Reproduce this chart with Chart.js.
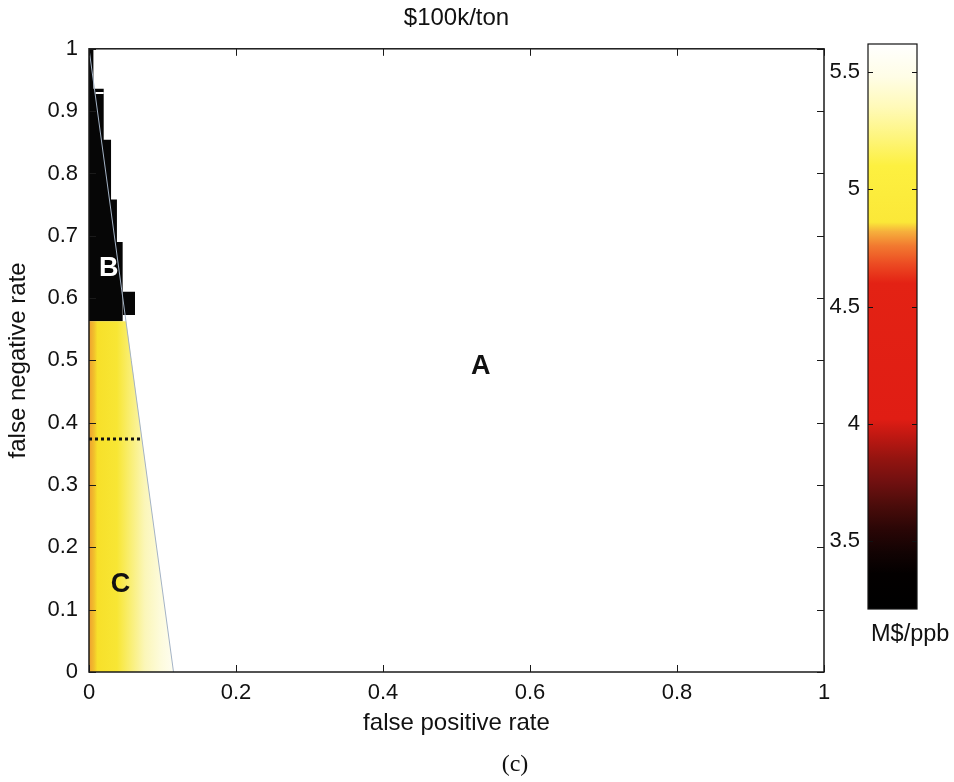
<!DOCTYPE html>
<html>
<head>
<meta charset="utf-8">
<script src="https://cdn.jsdelivr.net/npm/chart.js@4.4.1/dist/chart.umd.min.js"></script>
<style>
  html, body { margin: 0; padding: 0; background: #fff; }
  #wrap { position: relative; width: 954px; height: 782px; overflow: hidden; }
  #main { position: absolute; left: 0; top: 0; }
  #cbar { position: absolute; left: 800px; top: 0; }
  #cap { position: absolute; left: 0; width: 1030px; top: 750px; text-align: center;
         font: 24px "Liberation Serif", "Times New Roman", serif; color: #111; }
</style>
</head>
<body>
<div id="wrap">
  <canvas id="main" width="954" height="782"></canvas>
  <canvas id="cbar" width="154" height="782"></canvas>
  <div id="cap">(c)</div>
</div>
<script>
// region B (black) upper edge, stepped
const blackEdgeX = [0, 0.006, 0.006, 0.020, 0.020, 0.030, 0.030, 0.038, 0.038, 0.046, 0.046];
const blackEdgeY = [1, 1, 0.936, 0.936, 0.854, 0.854, 0.758, 0.758, 0.69, 0.69, 0.61];
const blackBottom = 0.563;
// last step of region B sits a bit higher
const blackStepX = [0.046, 0.0626];
const blackStepY = [0.61, 0.61];
const blackStepBottom = 0.573;

// region C (yellow) outline
const yellowX = [0, 0.0506, 0.115];
const yellowY = [0.563, 0.563, 0];

// thin boundary line between C and A
const boundaryX = [0, 0.115];
const boundaryY = [1, 0];

// dotted line
const dotX = [0, 0.0725];
const dotY = [0.374, 0.374];

const xTicks = [0, 0.2, 0.4, 0.6, 0.8, 1];
const yTicks = [0, 0.1, 0.2, 0.3, 0.4, 0.5, 0.6, 0.7, 0.8, 0.9, 1];

const regionNames = ["A", "B", "C"];
const regionX = [0.533, 0.027, 0.043];
const regionY = [0.49, 0.647, 0.14];
const regionColor = ["#111", "#fff", "#111"];

// colorbar
const cbMin = 3.21;
const cbMax = 5.62;
const cbTicks = [3.5, 4, 4.5, 5, 5.5];
const cbStopValues = [3.21, 3.36, 3.45, 3.55, 3.65, 3.75, 3.85, 3.95, 4.02, 4.6, 4.68, 4.76, 4.82, 4.86, 5.1, 5.22, 5.35, 5.48, 5.62];
const cbStopColors = ["#000000", "#030000", "#120303", "#2a0606", "#4a0c0a", "#701010", "#931410", "#c01812",
  "#e01d14", "#e32214", "#ec4a22", "#f27a30", "#f6b03c", "#fbe838", "#fdf040", "#fef57c", "#fffab8", "#fffde6", "#ffffff"];

const FONT = "'Liberation Sans', Arial, sans-serif";

const pts = (xs, ys) => xs.map((x, i) => ({ x: x, y: ys[i] }));
const plainTick = (v) => String(v);

function yellowFill(context) {
  const chart = context.chart;
  const { ctx, chartArea, scales } = chart;
  if (!chartArea) return "#f8e030";
  const x0 = scales.x.getPixelForValue(0);
  const x1 = scales.x.getPixelForValue(0.115);
  const g = ctx.createLinearGradient(x0, 0, x1, 0);
  g.addColorStop(0, "#eea030");
  g.addColorStop(0.06, "#f2c02c");
  g.addColorStop(0.1, "#f7e02a");
  g.addColorStop(0.33, "#f8e634");
  g.addColorStop(0.48, "#f9ee70");
  g.addColorStop(0.66, "#fbf6b8");
  g.addColorStop(0.85, "#fdfbdc");
  g.addColorStop(1, "#fefdf0");
  return g;
}

// inward ticks and box like the original plot
const boxTicks = {
  id: "boxTicks",
  afterDraw(chart) {
    const { ctx, chartArea: a, scales } = chart;
    ctx.save();
    ctx.strokeStyle = "#1a1a1a";
    ctx.lineWidth = 1;
    ctx.beginPath();
    xTicks.forEach((v) => {
      const px = Math.round(scales.x.getPixelForValue(v)) + 0.5;
      ctx.moveTo(px, a.bottom); ctx.lineTo(px, a.bottom - 7);
      ctx.moveTo(px, a.top); ctx.lineTo(px, a.top + 7);
    });
    yTicks.forEach((v) => {
      const py = Math.round(scales.y.getPixelForValue(v)) + 0.5;
      ctx.moveTo(a.left, py); ctx.lineTo(a.left + 7, py);
      ctx.moveTo(a.right, py); ctx.lineTo(a.right - 7, py);
    });
    ctx.stroke();
    ctx.lineWidth = 1.5;
    ctx.strokeRect(a.left, a.top, a.right - a.left, a.bottom - a.top);
    ctx.font = "bold 27px " + FONT;
    ctx.textAlign = "center";
    ctx.textBaseline = "middle";
    regionNames.forEach((t, i) => {
      ctx.fillStyle = regionColor[i];
      ctx.fillText(t, scales.x.getPixelForValue(regionX[i]), scales.y.getPixelForValue(regionY[i]));
    });
    ctx.restore();
  }
};

// datasets are painted last-to-first, so the lines come first here
new Chart(document.getElementById("main"), {
  type: "scatter",
  data: {
    datasets: [
      {
        data: pts(dotX, dotY),
        showLine: true,
        borderColor: "#111",
        borderWidth: 3,
        borderDash: [3, 3],
        borderCapStyle: "butt",
        pointRadius: 0
      },
      {
        data: [{ x: 0.009, y: 0.929 }, { x: 0.020, y: 0.929 }],
        showLine: true,
        borderColor: "#ffffff",
        borderWidth: 2,
        pointRadius: 0
      },
      {
        data: pts(boundaryX, boundaryY),
        showLine: true,
        borderColor: "#a4b3c6",
        borderWidth: 1,
        pointRadius: 0
      },
      {
        data: pts(yellowX, yellowY),
        showLine: true,
        fill: "origin",
        backgroundColor: yellowFill,
        borderWidth: 0,
        pointRadius: 0
      },
      {
        data: pts(blackStepX, blackStepY),
        showLine: true,
        fill: { value: blackStepBottom },
        backgroundColor: "#060606",
        borderWidth: 0,
        pointRadius: 0
      },
      {
        data: pts(blackEdgeX, blackEdgeY),
        showLine: true,
        fill: { value: blackBottom },
        backgroundColor: "#060606",
        borderWidth: 0,
        pointRadius: 0
      }
    ]
  },
  options: {
    responsive: false,
    animation: false,
    layout: { padding: { left: 0, right: 130, top: 0, bottom: 40 } },
    plugins: {
      legend: { display: false },
      tooltip: { enabled: false },
      title: {
        display: true,
        fullSize: false,
        text: "$100k/ton",
        color: "#111",
        font: { family: FONT, size: 24, weight: "normal" },
        padding: { top: 4, bottom: 16 }
      }
    },
    scales: {
      x: {
        type: "linear",
        min: 0,
        max: 1,
        afterBuildTicks: (s) => { s.ticks = xTicks.map((v) => ({ value: v })); },
        afterFit: (s) => { s.height = 70; },
        grid: { display: false, drawTicks: false },
        border: { display: false },
        ticks: { color: "#111", padding: 8, font: { family: FONT, size: 22 }, maxRotation: 0, callback: plainTick },
        title: {
          display: true,
          text: "false positive rate",
          color: "#111",
          font: { family: FONT, size: 24 },
          padding: { top: 4, bottom: 4 }
        }
      },
      y: {
        type: "linear",
        min: 0,
        max: 1,
        afterBuildTicks: (s) => { s.ticks = yTicks.map((v) => ({ value: v })); },
        afterFit: (s) => { s.width = 89; },
        grid: { display: false, drawTicks: false },
        border: { display: false },
        ticks: { color: "#111", padding: 11, font: { family: FONT, size: 22 }, callback: plainTick },
        title: {
          display: true,
          text: "false negative rate",
          color: "#111",
          font: { family: FONT, size: 24 },
          padding: { top: 4, bottom: 4 }
        }
      }
    }
  },
  plugins: [boxTicks]
});

// colorbar
function hotFill(context) {
  const chart = context.chart;
  const { ctx, chartArea, scales } = chart;
  if (!chartArea) return "#e01a12";
  const y0 = scales.y.getPixelForValue(cbMin);
  const y1 = scales.y.getPixelForValue(cbMax);
  const g = ctx.createLinearGradient(0, y0, 0, y1);
  cbStopValues.forEach((v, i) => {
    g.addColorStop((v - cbMin) / (cbMax - cbMin), cbStopColors[i]);
  });
  return g;
}

const cbFrame = {
  id: "cbFrame",
  afterDraw(chart) {
    const { ctx, chartArea: a, scales } = chart;
    ctx.save();
    ctx.strokeStyle = "#111";
    ctx.lineWidth = 1.2;
    ctx.strokeRect(a.left, a.top, a.right - a.left, a.bottom - a.top);
    ctx.beginPath();
    cbTicks.forEach((v) => {
      const py = Math.round(scales.y.getPixelForValue(v)) + 0.5;
      ctx.moveTo(a.left, py); ctx.lineTo(a.left + 5, py);
      ctx.moveTo(a.right, py); ctx.lineTo(a.right - 5, py);
    });
    ctx.stroke();
    // unit label under the bar
    ctx.fillStyle = "#111";
    ctx.font = "23.5px " + FONT;
    ctx.textAlign = "left";
    ctx.textBaseline = "alphabetic";
    ctx.fillText("M$/ppb", a.left + 3, a.bottom + 32);
    ctx.restore();
  }
};

new Chart(document.getElementById("cbar"), {
  type: "bar",
  data: {
    labels: [""],
    datasets: [{
      data: [[cbMin, cbMax]],
      backgroundColor: hotFill,
      borderWidth: 0,
      barPercentage: 1,
      categoryPercentage: 1
    }]
  },
  options: {
    responsive: false,
    animation: false,
    layout: { padding: { left: 0, right: 37, top: 44, bottom: 137 } },
    plugins: { legend: { display: false }, tooltip: { enabled: false } },
    scales: {
      x: {
        afterFit: (s) => { s.height = 36; },
        grid: { display: false, drawTicks: false },
        border: { display: false },
        ticks: { display: false }
      },
      y: {
        type: "linear",
        min: cbMin,
        max: cbMax,
        afterBuildTicks: (s) => { s.ticks = cbTicks.map((v) => ({ value: v })); },
        afterFit: (s) => { s.width = 68; },
        grid: { display: false, drawTicks: false },
        border: { display: false },
        ticks: { color: "#111", padding: 8, font: { family: FONT, size: 22 }, callback: plainTick }
      }
    }
  },
  plugins: [cbFrame]
});
</script>
</body>
</html>
